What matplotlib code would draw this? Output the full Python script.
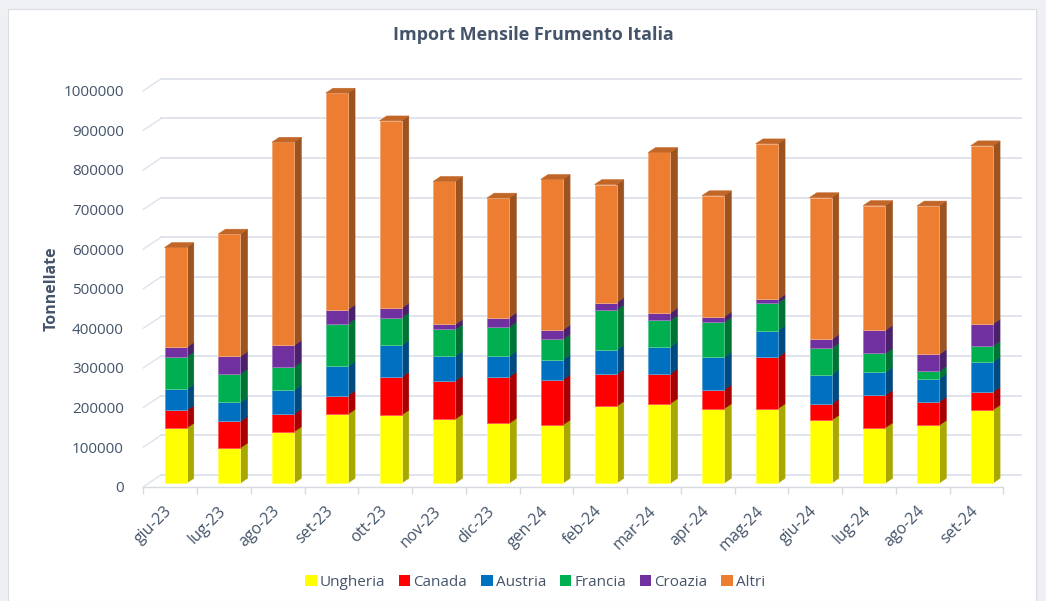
import matplotlib.pyplot as plt
import matplotlib.colors as mcolors
from matplotlib.patches import Patch, Rectangle
from matplotlib.transforms import ScaledTranslation
import numpy as np

plt.rcParams['font.family'] = ['Open Sans', 'DejaVu Sans']

months = ['giu-23', 'lug-23', 'ago-23', 'set-23', 'ott-23', 'nov-23', 'dic-23', 'gen-24',
          'feb-24', 'mar-24', 'apr-24', 'mag-24', 'giu-24', 'lug-24', 'ago-24', 'set-24']

ungheria = [139000, 89000, 130000, 174000, 172000, 162000, 151000, 147000,
            194000, 201000, 188000, 188000, 159000, 140000, 146000, 185000]
canada = [45000, 67000, 45000, 47000, 96000, 96000, 117000, 114000,
          81000, 75000, 48000, 130000, 41000, 82000, 59000, 45000]
austria = [53000, 48000, 60000, 74000, 80000, 63000, 53000, 51000,
           61000, 68000, 82000, 67000, 74000, 58000, 58000, 76000]
francia = [82000, 72000, 58000, 107000, 70000, 67000, 73000, 51000,
           102000, 67000, 88000, 70000, 67000, 48000, 19000, 40000]
croazia = [24000, 44000, 55000, 36000, 24000, 13000, 24000, 24000,
           18000, 19000, 14000, 9000, 22000, 58000, 43000, 56000]
altri = [252000, 309000, 513000, 547000, 473000, 361000, 302000, 380000,
         298000, 405000, 306000, 393000, 358000, 315000, 375000, 450000]

series = [('Ungheria', ungheria, '#FFFF00'),
          ('Canada', canada, '#FF0000'),
          ('Austria', austria, '#0070C0'),
          ('Francia', francia, '#00B050'),
          ('Croazia', croazia, '#7030A0'),
          ('Altri', altri, '#ED7D31')]

text_col = '#44546A'
grid_col = '#DEE2EA'

# fake 3d: depth vector of the floor (categories, tonnes)
DX, DY = 0.335, 30300
bar_w = 0.41
f0, f1 = 0.3, 0.7   # bar front / back inside the floor depth


def shade(c, k):
    r, g, b = mcolors.to_rgb(c)
    return (r * k, g * k, b * k)


def tint(c, k):
    r, g, b = mcolors.to_rgb(c)
    return (r + (1 - r) * k, g + (1 - g) * k, b + (1 - b) * k)


fig = plt.figure(figsize=(10.46, 6.01), dpi=100)
fig.patch.set_facecolor('#EEF0F3')
fig.patches.append(Rectangle((8 / 1046, 0), 1028 / 1046, 592 / 601, transform=fig.transFigure,
                             facecolor='white', edgecolor='#D9DCE1', lw=0.8, zorder=-5))

ax = fig.add_axes([143.3 / 1046, 114.3 / 601, 860 / 1046, 396 / 601])
ax.set_xlim(-0.5, 15.5)
ax.set_ylim(0, 1000000)
ax.patch.set_alpha(0)
for s in ax.spines.values():
    s.set_visible(False)

yt = np.arange(0, 1000001, 100000)
n = len(months)
x = np.arange(n)

# back wall gridlines + left wall diagonals
for v in yt:
    ax.plot([-0.5 + DX, n - 0.5 + DX], [v + DY, v + DY], color=grid_col, lw=1.3, zorder=1, clip_on=False)
    ax.plot([-0.5, -0.5 + DX], [v, v + DY], color=grid_col, lw=1.0, zorder=1, clip_on=False)
# floor front edge
ax.plot([-0.5, n - 0.5], [0, 0], color='#D6D9DF', lw=1.0, zorder=1, clip_on=False)

bottom = np.zeros(n)
for si, (name, vals, col) in enumerate(series):
    vals = np.array(vals, dtype=float)
    xf = x + f0 * DX
    ax.bar(xf, vals, bottom=bottom + f0 * DY, width=bar_w, color=col,
           edgecolor=tint(col, 0.35), linewidth=0.6, zorder=3)
    dx = (f1 - f0) * DX
    dy = (f1 - f0) * DY
    for i in range(n):
        xr = xf[i] + bar_w / 2
        y0 = bottom[i] + f0 * DY
        y1 = y0 + vals[i]
        ax.fill([xr, xr + dx, xr + dx, xr], [y0, y0 + dy, y1 + dy, y1],
                color=shade(col, 0.66), lw=0.4, zorder=2, clip_on=False)
        if si == len(series) - 1:
            xl = xf[i] - bar_w / 2
            ax.fill([xl, xr, xr + dx, xl + dx], [y1, y1, y1 + dy, y1 + dy],
                    color=shade(col, 0.82), lw=0.4, zorder=3, clip_on=False)
    bottom = bottom + vals

ax.set_yticks(yt)
ax.set_yticklabels([str(v) for v in yt])
ax.tick_params(axis='y', length=0, pad=14, labelsize=11, labelcolor=text_col)

ax.set_xticks(x)
ax.set_xticklabels(months, rotation=45, ha='right', rotation_mode='anchor')
ax.set_xticks(np.arange(-0.5, n, 1), minor=True)
ax.tick_params(axis='x', which='major', length=0, pad=12, labelsize=11.5, labelcolor=text_col)
ax.tick_params(axis='x', which='minor', length=5, width=1, color='#D6D9DF')
shift = ScaledTranslation(-6 / 100, 0, fig.dpi_scale_trans)
for lab in ax.get_xticklabels():
    lab.set_transform(lab.get_transform() + shift)

ax.set_ylabel('Tonnellate', fontsize=11.5, fontweight='bold', color=text_col, labelpad=3)

fig.text(533 / 1046, 1 - 35 / 601, 'Import Mensile Frumento Italia', ha='center', va='center',
         fontsize=13, fontweight='bold', color=text_col)

handles = [Patch(facecolor=c, edgecolor='none', label=nm) for nm, _, c in series]
fig.legend(handles=handles, loc='center', bbox_to_anchor=(535 / 1046, 1 - 582 / 601), ncol=6,
           frameon=False, fontsize=11, handlelength=0.75, handleheight=0.75, handletextpad=0.2,
           columnspacing=0.9, labelcolor=text_col)

fig.savefig('out.png', dpi=100)
